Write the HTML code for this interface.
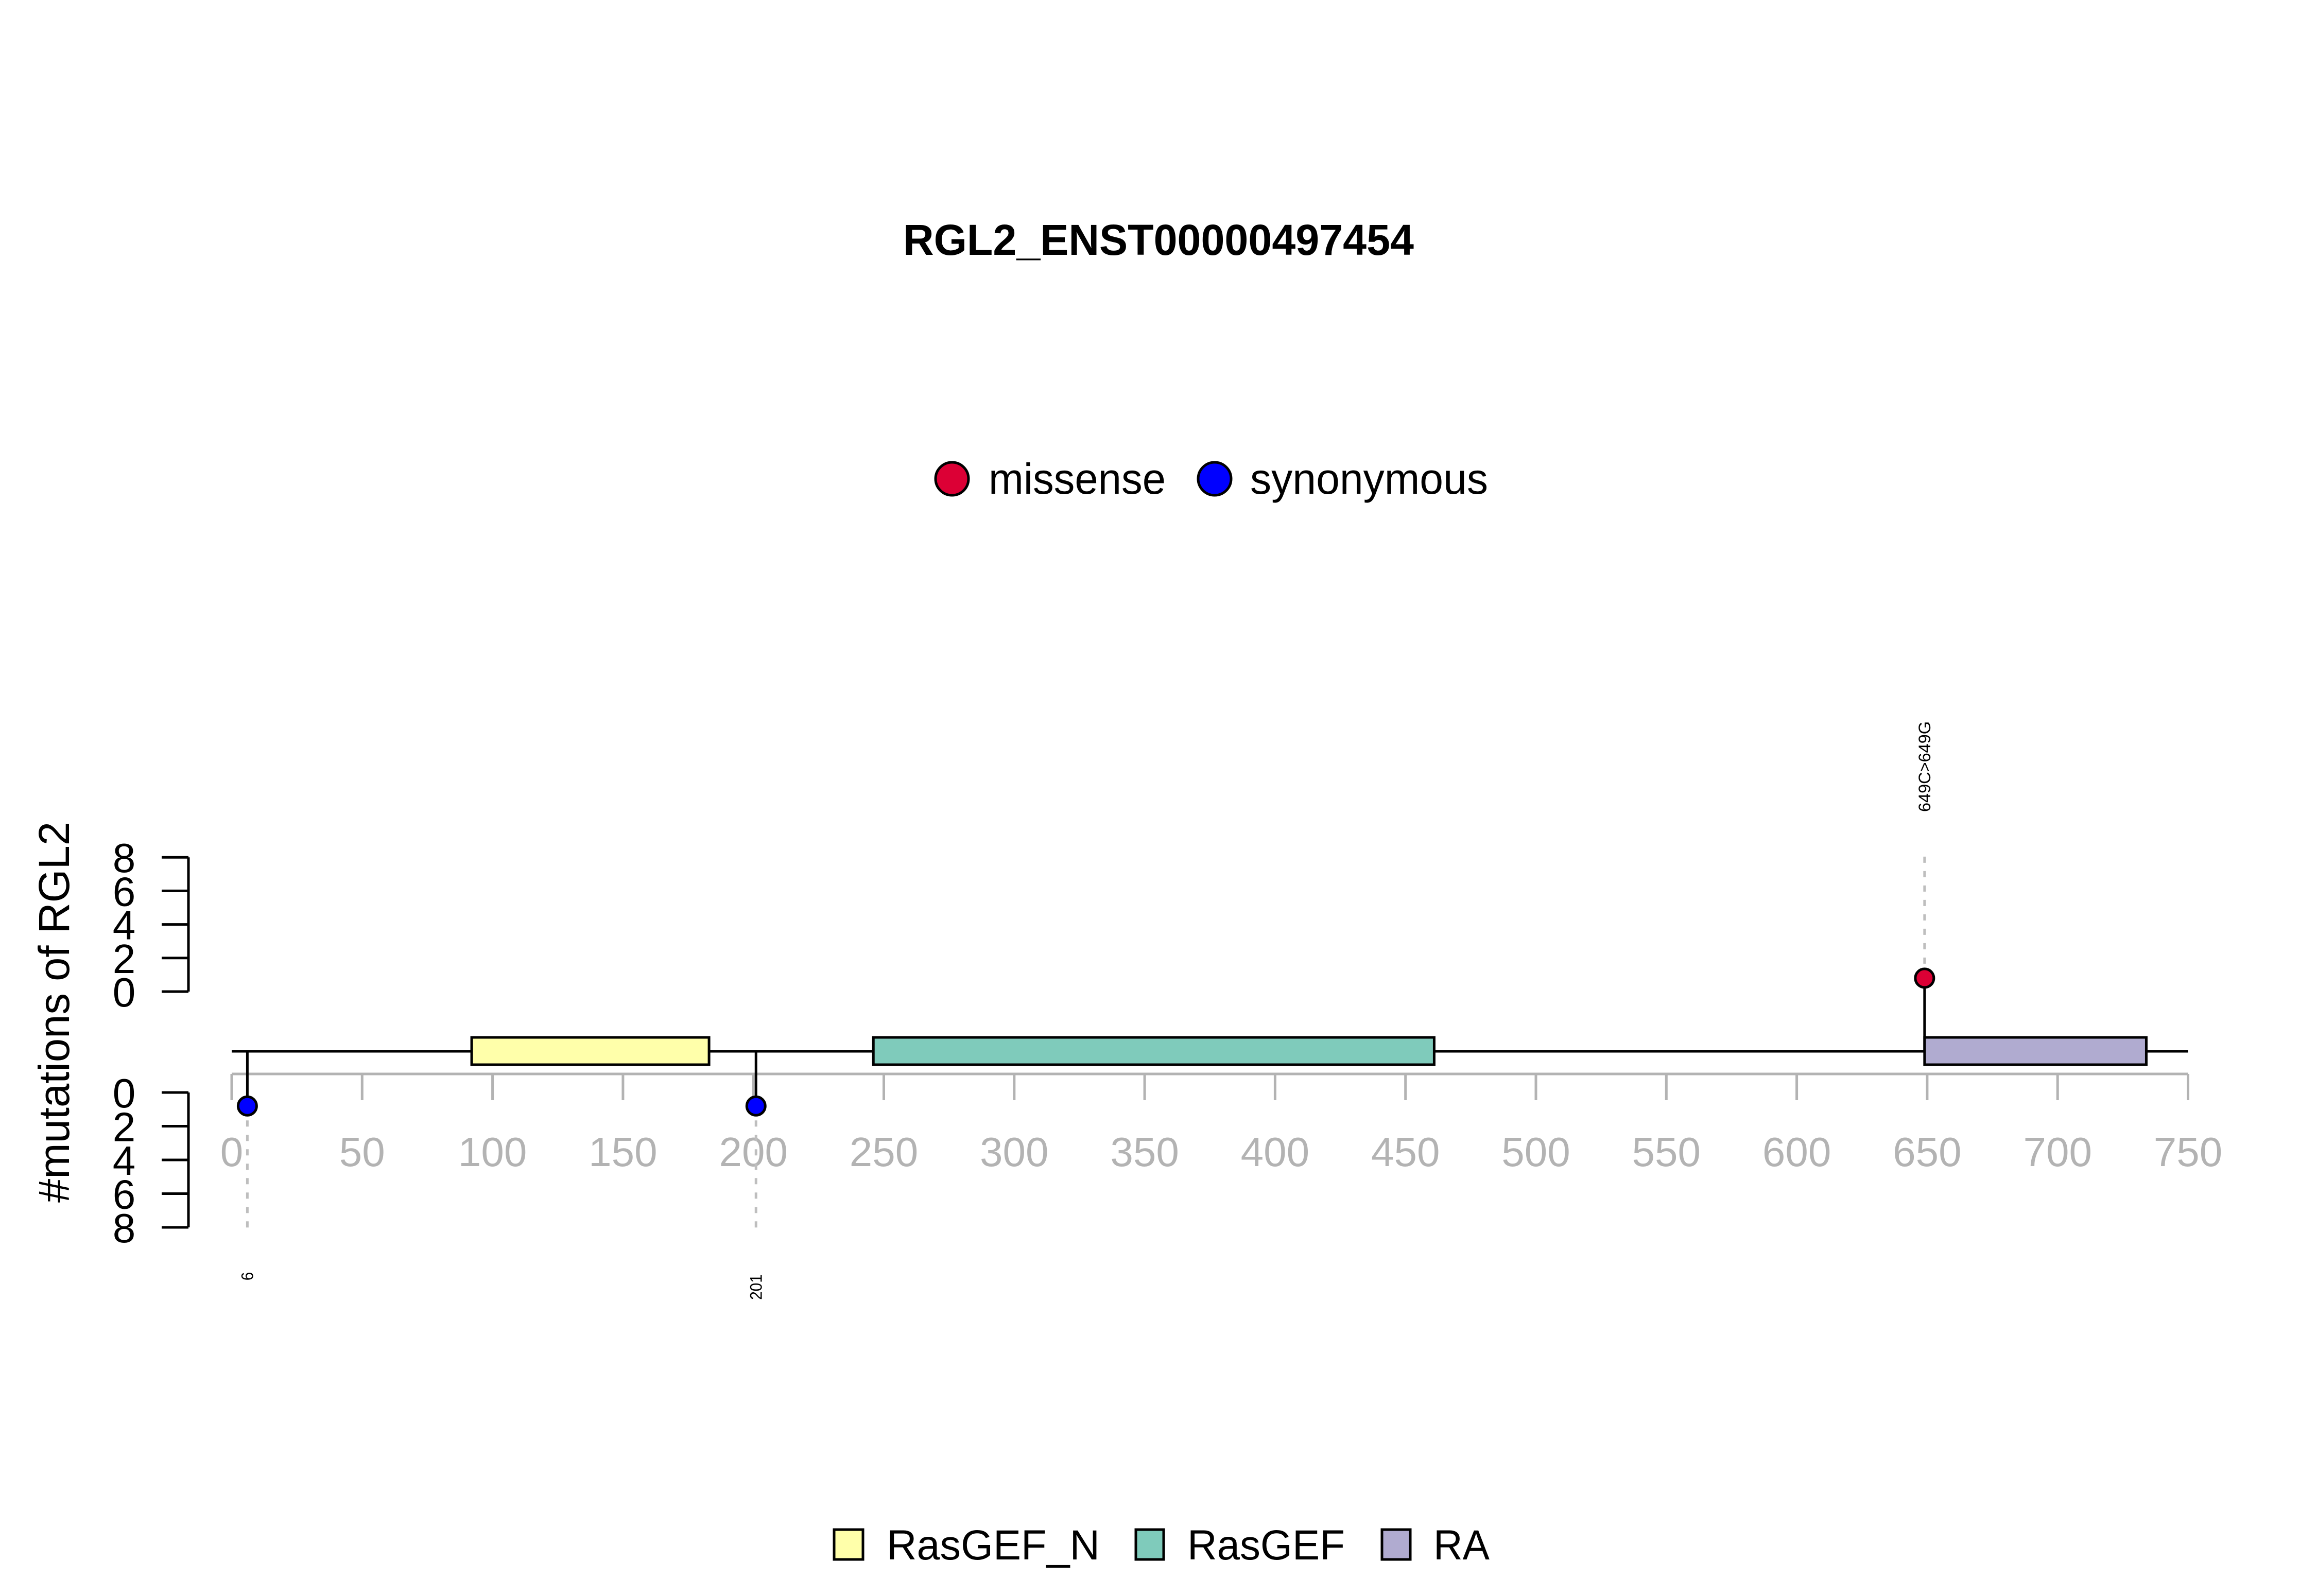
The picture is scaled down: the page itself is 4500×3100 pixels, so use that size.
<!DOCTYPE html>
<html><head><meta charset="utf-8"><style>
html,body{margin:0;padding:0;background:#fff;}
svg{display:block;font-family:"Liberation Sans",sans-serif;}
</style></head><body>
<svg id="chart" width="4500" height="3100" viewBox="0 0 4500 3100" xmlns="http://www.w3.org/2000/svg">
<rect width="4500" height="3100" fill="#fff"/>
<text x="2250" y="495" text-anchor="middle" font-weight="bold" font-size="84" textLength="992" lengthAdjust="spacingAndGlyphs">RGL2_ENST00000497454</text>
<g>
<circle cx="1849" cy="930" r="32" fill="#DC0035" stroke="#000" stroke-width="5"/>
<text x="1920" y="959" font-size="84" textLength="344" lengthAdjust="spacingAndGlyphs">missense</text>
<circle cx="2359" cy="930" r="32" fill="#0000FF" stroke="#000" stroke-width="5"/>
<text x="2428" y="959" font-size="84" textLength="462" lengthAdjust="spacingAndGlyphs">synonymous</text>
</g>
<text transform="translate(134,1966) rotate(-90)" text-anchor="middle" font-size="84" textLength="740" lengthAdjust="spacingAndGlyphs">#mutations of RGL2</text>
<g id="plot"></g>
<g>
<rect x="1620" y="2971" width="56" height="58" fill="#FFFFAA" stroke="#000" stroke-width="5"/>
<text x="1722" y="3029" font-size="82" textLength="414" lengthAdjust="spacingAndGlyphs">RasGEF_N</text>
<rect x="2206" y="2971" width="54" height="58" fill="#7FCBBB" stroke="#000" stroke-width="5"/>
<text x="2306" y="3029" font-size="82" textLength="306" lengthAdjust="spacingAndGlyphs">RasGEF</text>
<rect x="2684" y="2971" width="55" height="58" fill="#B0ABD0" stroke="#000" stroke-width="5"/>
<text x="2784" y="3029" font-size="82" textLength="109" lengthAdjust="spacingAndGlyphs">RA</text>
</g>
</svg>
<script>
const xTicks = [0,50,100,150,200,250,300,350,400,450,500,550,600,650,700,750];
const yTicks = [0,2,4,6,8];
const domainNames = ["RasGEF_N","RasGEF","RA"];
const domainStarts = [92,246,649];
const domainEnds = [183,461,734];
const domainColors = ["#FFFFAA","#7FCBBB","#B0ABD0"];
const mutPositions = [6,201,649];
const mutCounts = [1,1,1];
const mutTypes = ["synonymous","synonymous","missense"];
const mutLabels = ["6","201","649C>649G"];
const proteinLength = 750;

const NS = "http://www.w3.org/2000/svg";
const g = document.getElementById("plot");
function X(v){ return 450 + v*5.066; }
function yUp(v){ return 1926 - v*32.6; }
function yDn(v){ return 2122 + v*32.75; }
const BACK = 2042;
function mk(tag, attrs, parent){
  const e = document.createElementNS(NS, tag);
  for (const k in attrs) e.setAttribute(k, attrs[k]);
  (parent||g).appendChild(e);
  return e;
}
let e;
e = mk("line",{x1:366,x2:366,y1:yUp(8),y2:yUp(0),stroke:"#000","stroke-width":5});


e = mk("line",{x1:366,x2:366,y1:yDn(0),y2:yDn(8),stroke:"#000","stroke-width":5});


yTicks.forEach(v=>{
  [[yUp(v),'upper'],[yDn(v),'lower']].forEach(([y,s])=>{
    e = mk("line",{x1:314,x2:366,y1:y,y2:y,stroke:"#000","stroke-width":5});
    
    
    e = mk("text",{x:241,y:y+29,"text-anchor":"middle","font-size":80});
    e.textContent = String(v);
    
    
  });
});
e = mk("line",{x1:X(0),x2:X(proteinLength),y1:2086,y2:2086,stroke:"#B3B3B3","stroke-width":5});


xTicks.forEach(v=>{
  e = mk("line",{x1:X(v),x2:X(v),y1:2086,y2:2137,stroke:"#B3B3B3","stroke-width":5});
  
  
  e = mk("text",{x:X(v),y:2265,"text-anchor":"middle","font-size":80,fill:"#B3B3B3"});
  e.textContent = String(v);
  
  
});
e = mk("line",{x1:X(0),x2:X(proteinLength),y1:BACK,y2:BACK,stroke:"#000","stroke-width":5});


mutPositions.forEach((p,i)=>{
  const x = X(p);
  const up = mutTypes[i]==="missense";
  const cy = up ? yUp(mutCounts[i]*0.8) : yDn(mutCounts[i]*0.8);
  e = mk("line",{x1:x,x2:x,y1:cy,y2:up?1653:2397,stroke:"#BEBEBE","stroke-width":5,"stroke-dasharray":"12 16"});
  
  
  e = mk("line",{x1:x,x2:x,y1:BACK,y2:cy,stroke:"#000","stroke-width":5});
  
  
});
domainNames.forEach((n,i)=>{
  e = mk("rect",{x:X(domainStarts[i]),y:2015,width:X(domainEnds[i])-X(domainStarts[i]),height:53,fill:domainColors[i],stroke:"#000","stroke-width":5});
  
  
});
mutPositions.forEach((p,i)=>{
  const x = X(p);
  const up = mutTypes[i]==="missense";
  const cy = up ? yUp(mutCounts[i]*0.8) : yDn(mutCounts[i]*0.8);
  e = mk("circle",{cx:x,cy:cy,r:18,fill:up?"#DC0035":"#0000FF",stroke:"#000","stroke-width":5});
  
  
  const lbl = mutLabels[i];
  const len = lbl.length>3 ? 176 : lbl.length*16.5;
  const cyL = up ? 1489 : (lbl.length===1 ? 2479 : 2500);
  e = mk("text",{transform:`translate(${x+11},${cyL}) rotate(-90)`,"text-anchor":"middle","font-size":32,textLength:len,lengthAdjust:"spacingAndGlyphs"});
  e.textContent = lbl;
  
  
});
</script>
</body></html>
